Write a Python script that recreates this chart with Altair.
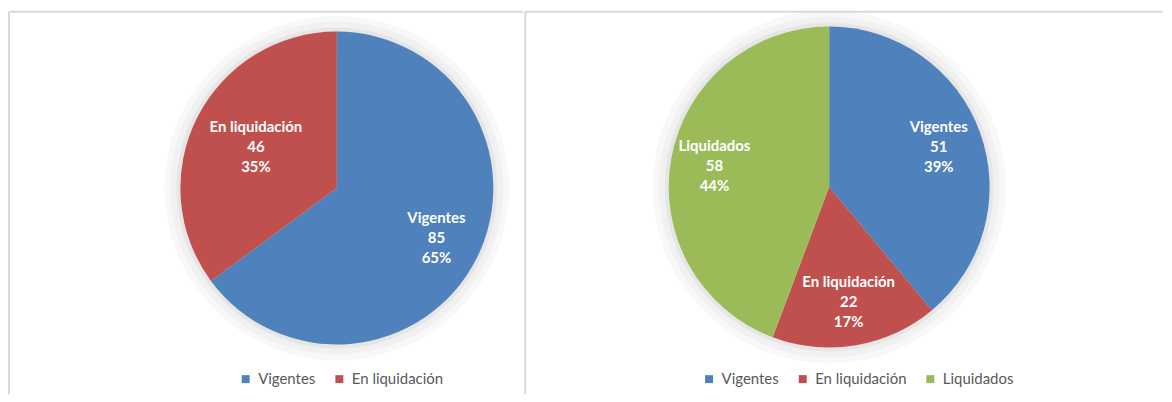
import altair as alt
import pandas as pd

# ---- data ----
left_cats = ["Vigentes", "En liquidación"]
left_vals = [85, 46]
right_cats = ["Vigentes", "En liquidación", "Liquidados"]
right_vals = [51, 22, 58]
palette = ["#4F81BD", "#C0504D", "#9BBB59"]

FONT = "Lato"
BORDER = "#d9d9d9"


def panel(cats, vals, width, height, cx, cy, r, label_r_expr, leg_x, leg_y):
    df = pd.DataFrame({"cat": cats, "val": vals, "idx": list(range(len(cats)))})
    base = alt.Chart(df)

    one = alt.Data(values=[{"a": 1}])
    rings = []
    for extra, col in [(16, "#f8f8f8"), (10, "#f1f1f1"), (4, "#e6e6e6")]:
        rings.append(
            alt.Chart(one).mark_arc(radius=r + extra, theta=0, theta2=6.2832, fill=col)
            .encode(x=alt.value(cx), y=alt.value(cy))
        )

    theta = alt.Theta("val:Q", stack=True)
    order = alt.Order("idx:Q", sort="ascending")

    pie = base.mark_arc(radius=r, stroke=None).encode(
        theta=theta,
        order=order,
        x=alt.value(cx),
        y=alt.value(cy),
        color=alt.Color(
            "cat:N",
            sort=cats,
            scale=alt.Scale(domain=cats, range=palette[: len(cats)]),
            legend=alt.Legend(
                title=None,
                orient="none",
                legendX=leg_x,
                legendY=leg_y,
                direction="horizontal",
                symbolType="square",
                symbolSize=64,
                symbolStrokeWidth=0,
                labelFont=FONT,
                labelFontSize=15,
                labelColor="#595959",
                labelOffset=5,
                columnPadding=16,
            ),
        ),
    )

    text = (
        base.transform_joinaggregate(total="sum(val)")
        .transform_calculate(
            label="datum.cat + '\\n' + datum.val + '\\n' + format(datum.val / datum.total, '.0%')"
        )
        .mark_text(
            radius=alt.expr(label_r_expr),
            font=FONT,
            fontSize=15,
            fontWeight="bold",
            color="white",
            lineBreak="\n",
            lineHeight=20,
            align="center",
            baseline="middle",
            dy=-20,
        )
        .encode(theta=theta, order=order, x=alt.value(cx), y=alt.value(cy), text="label:N")
    )

    top = alt.Chart(one).mark_rule(color=BORDER, strokeWidth=2).encode(
        x=alt.value(0), x2=alt.value(width), y=alt.value(0)
    )
    left = alt.Chart(one).mark_rule(color=BORDER, strokeWidth=2).encode(
        x=alt.value(0), y=alt.value(0), y2=alt.value(height)
    )

    return alt.layer(*rings, pie, text, top, left).properties(width=width, height=height)


H = 384
p1 = panel(left_cats, left_vals, 516, H, 329, 177, 157,
           "datum.cat == 'Vigentes' ? 112 : 91", 230, 361)
p2 = panel(right_cats, right_vals, 640, H, 305, 176, 161,
           "117", 177, 361)

chart = (
    alt.hconcat(p1, p2, spacing=0)
    .resolve_scale(color="independent", theta="independent")
    .properties(padding={"left": 0, "top": 2, "right": 0, "bottom": 0}, background="white")
    .configure_view(stroke=None)
)

chart.save("out.html", embed_options={"renderer": "svg", "actions": False})
